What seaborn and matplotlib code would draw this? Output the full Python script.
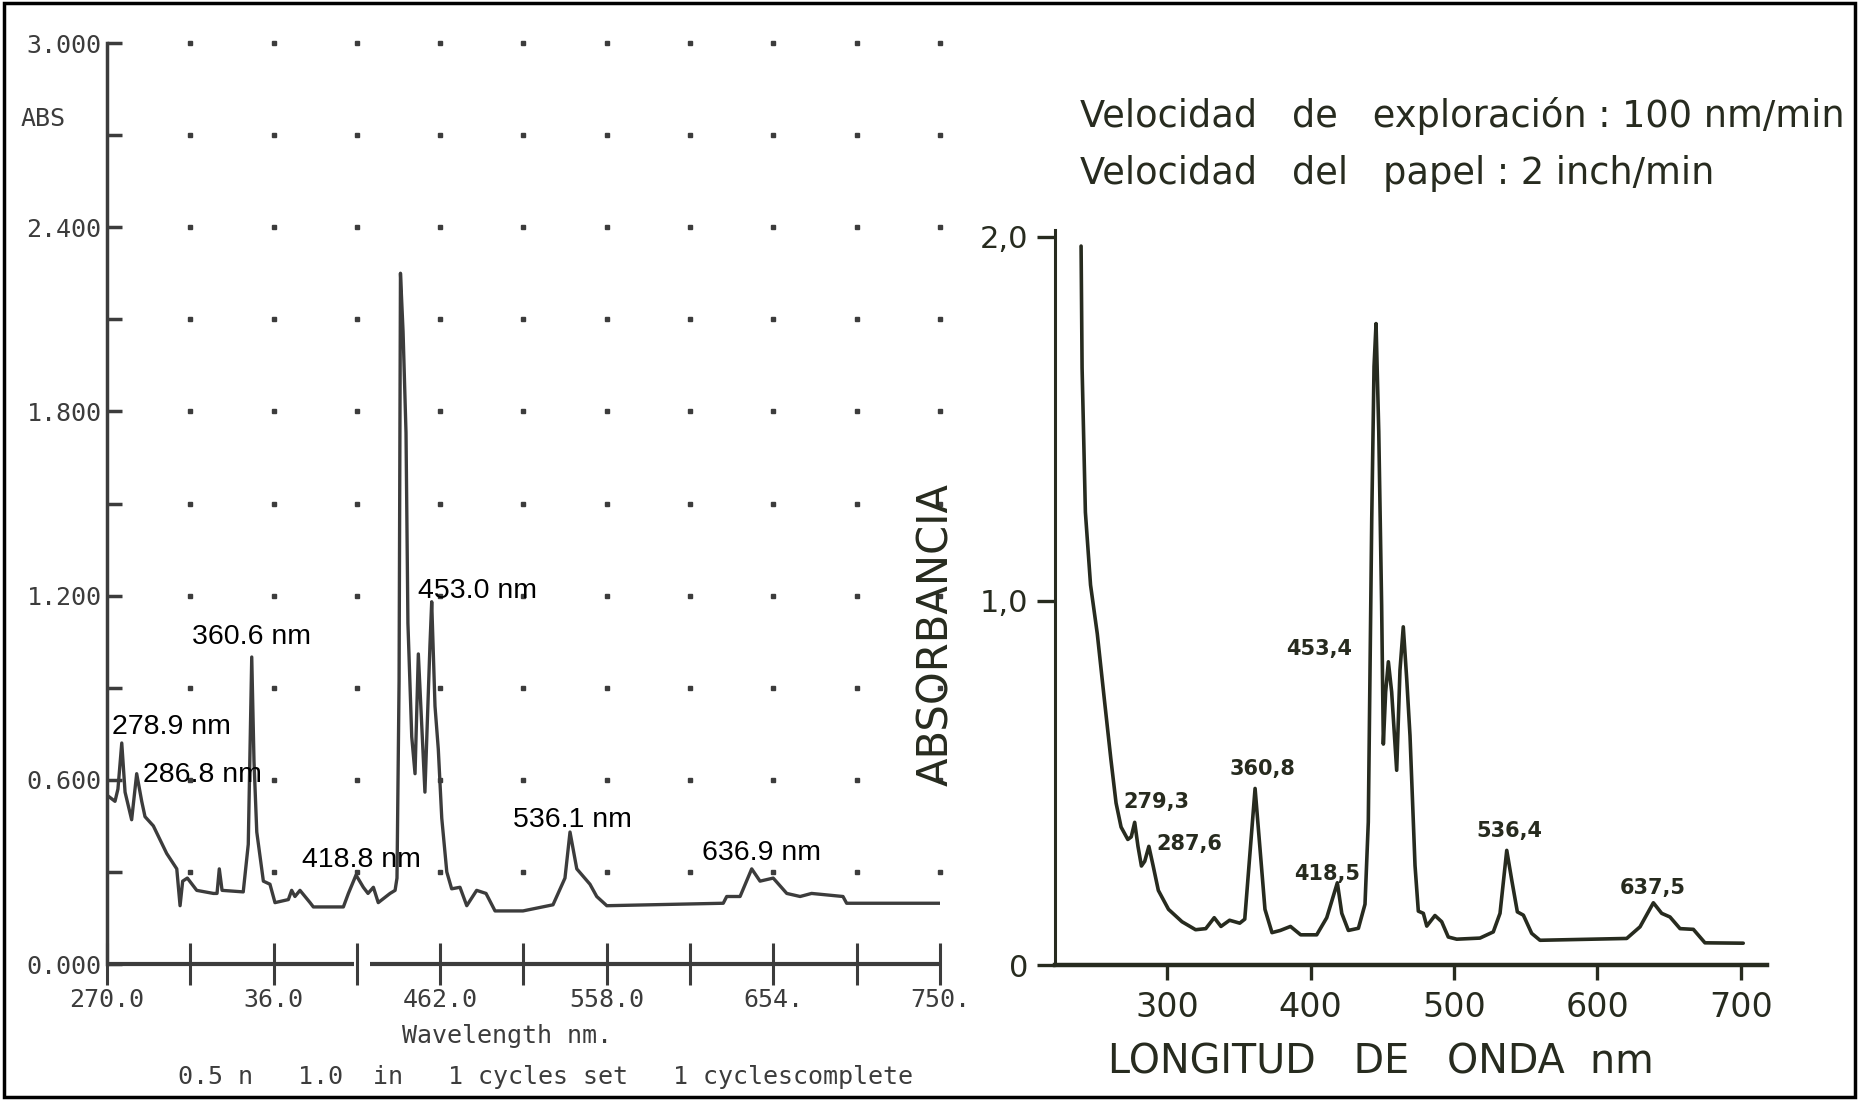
import numpy as np
import matplotlib
matplotlib.use("Agg")
import matplotlib.pyplot as plt
import seaborn as sns
from matplotlib.patches import Rectangle

# --- espectro izquierdo (registro digital, ABS) ---
onda_izq = [270.0, 274.6, 276.3, 278.5, 280.4, 284.2, 287.1, 290.0, 291.9, 296.7,
            304.4, 310.2, 312.1, 313.6, 316.3, 321.7, 331.3, 333.4, 334.7, 336.3,
            348.5, 351.4, 353.4, 354.7, 356.3, 360.1, 363.9, 366.8, 374.5, 376.4,
            378.3, 381.2, 387.0, 388.9, 406.2, 409.1, 413.5, 417.7, 420.4, 423.5,
            426.3, 433.1, 436.0, 437.1, 438.3, 439.1, 440.6, 442.3, 443.4, 445.6,
            447.5, 449.4, 451.3, 453.2, 456.1, 457.1, 459.0, 460.9, 462.9, 465.8,
            468.6, 473.4, 477.3, 483.0, 488.4, 493.6, 509.7, 527.0, 533.9, 536.8,
            540.7, 548.3, 552.2, 558.0, 625.1, 627.1, 634.8, 641.5, 646.3, 653.9,
            661.7, 669.4, 676.0, 694.1, 696.2, 750.0]
abs_izq = [0.55, 0.53, 0.57, 0.72, 0.56, 0.47, 0.62, 0.53, 0.48, 0.45,
           0.36, 0.31, 0.19, 0.27, 0.28, 0.24, 0.23, 0.23, 0.31, 0.24,
           0.235, 0.39, 1.00, 0.66, 0.43, 0.27, 0.26, 0.20, 0.21, 0.24,
           0.22, 0.24, 0.20, 0.186, 0.186, 0.23, 0.29, 0.25, 0.23, 0.25,
           0.20, 0.23, 0.24, 0.28, 0.92, 2.25, 2.06, 1.73, 1.11, 0.74,
           0.62, 1.01, 0.785, 0.56, 1.04, 1.18, 0.84, 0.70, 0.475, 0.30,
           0.245, 0.25, 0.19, 0.24, 0.23, 0.173, 0.173, 0.193, 0.28, 0.43,
           0.31, 0.26, 0.22, 0.19, 0.198, 0.22, 0.22, 0.31, 0.27, 0.28,
           0.23, 0.22, 0.23, 0.22, 0.198, 0.198]

picos_izq = ["278.9 nm", "286.8 nm", "360.6 nm", "418.8 nm", "453.0 nm", "536.1 nm", "636.9 nm"]
picos_izq_x = [272.7, 290.7, 319.0, 382.4, 449.2, 504.0, 612.9]
picos_izq_y = [0.772, 0.616, 1.065, 0.34, 1.215, 0.47, 0.362]

ticks_x_izq = [270, 318, 366, 414, 462, 510, 558, 606, 654, 702, 750]
etiquetas_x_izq = ["270.0", "", "36.0", "", "462.0", "", "558.0", "", "654.", "", "750."]
ticks_y_izq = [0.0, 0.3, 0.6, 0.9, 1.2, 1.5, 1.8, 2.1, 2.4, 2.7, 3.0]
etiquetas_y_izq = ["0.000", "", "0.600", "", "1.200", "", "1.800", "", "2.400", "", "3.000"]
corte_eje = [(270, 412.3), (421.5, 750)]

# --- espectro derecho (registro en papel, ABSORBANCIA) ---
onda_der = [239.8, 240.5, 242.8, 246.4, 251.1, 255.8, 260.6, 264.2, 267.7, 272.4,
            274.8, 277.2, 279.5, 281.9, 284.2, 287.1, 290.1, 293.7, 300.8, 310.2,
            319.7, 326.8, 332.7, 337.4, 343.4, 350.5, 354.0, 361.2, 368.1, 373.0,
            378.8, 385.9, 393.0, 404.2, 411.2, 418.6, 421.7, 426.3, 433.3, 437.9,
            440.2, 442.6, 444.2, 445.6, 447.5, 449.5, 450.7, 452.3, 454.2, 456.5,
            460.0, 462.3, 464.6, 467.0, 469.3, 472.8, 475.1, 478.6, 481.0, 486.7,
            491.4, 496.0, 501.9, 518.1, 527.4, 532.1, 536.8, 540.3, 544.2, 548.4,
            554.2, 560.0, 620.5, 629.8, 639.1, 644.9, 650.7, 657.7, 667.0, 675.1,
            701.8]
abs_der = [1.975, 1.64, 1.244, 1.044, 0.91, 0.738, 0.565, 0.445, 0.379, 0.345,
           0.352, 0.392, 0.326, 0.272, 0.285, 0.326, 0.272, 0.205, 0.153, 0.119,
           0.097, 0.10, 0.13, 0.106, 0.123, 0.115, 0.126, 0.485, 0.153, 0.089,
           0.095, 0.106, 0.083, 0.083, 0.13, 0.226, 0.142, 0.095, 0.101, 0.167,
           0.393, 1.226, 1.644, 1.762, 1.465, 0.989, 0.607, 0.75, 0.833, 0.75,
           0.535, 0.81, 0.929, 0.786, 0.63, 0.273, 0.148, 0.142, 0.107, 0.136,
           0.119, 0.077, 0.071, 0.074, 0.091, 0.142, 0.315, 0.233, 0.146, 0.137,
           0.087, 0.068, 0.073, 0.105, 0.171, 0.142, 0.132, 0.10, 0.098, 0.061,
           0.06]

picos_der = ["279,3", "287,6", "360,8", "418,5", "453,4", "536,4", "637,5"]
picos_der_x = [292.0, 315.0, 366.3, 411.8, 405.8, 538.4, 638.9]
picos_der_y = [0.449, 0.332, 0.538, 0.249, 0.868, 0.367, 0.212]

ticks_x_der = [300, 400, 500, 600, 700]
ticks_y_der = [0, 1, 2]
etiquetas_y_der = ["0", "1,0", "2,0"]

gris = "#3c3c3c"
oliva = "#272b1f"
mono = "DejaVu Sans Mono"

sns.set_theme(style="white")
plt.rcParams["font.family"] = ["DejaVu Sans"]
plt.rcParams["xtick.bottom"] = True
plt.rcParams["ytick.left"] = True

fig = plt.figure(figsize=(18.61, 11.0), dpi=100)
fig.patch.set_facecolor("white")

# ---------------- panel izquierdo ----------------
ax1 = fig.add_axes([0.0575, 0.1236, 0.4476, 0.8373])
sns.lineplot(x=onda_izq, y=abs_izq, ax=ax1, color=gris, linewidth=2.4, estimator=None)
ax1.set_xlim(270, 750)
ax1.set_ylim(0, 3.0)

# rejilla de puntos del registrador
gx, gy = np.meshgrid(ticks_x_izq[1:], ticks_y_izq[1:])
ax1.plot(gx.ravel(), gy.ravel(), linestyle="none", marker="s", markersize=2.3,
         color=gris, clip_on=False)

for a, b in corte_eje:
    ax1.hlines(0, a, b, color=gris, linewidth=3, clip_on=False)

for s in ["top", "right", "bottom"]:
    ax1.spines[s].set_visible(False)
ax1.spines["left"].set_color(gris)
ax1.spines["left"].set_linewidth(2.5)

ax1.set_xticks(ticks_x_izq)
ax1.set_xticklabels(etiquetas_x_izq, fontfamily=mono, fontsize=18, color=gris)
ax1.set_yticks(ticks_y_izq)
ax1.set_yticklabels(etiquetas_y_izq, fontfamily=mono, fontsize=18, color=gris)
ax1.tick_params(axis="x", bottom=True, direction="inout", length=30, width=2.2,
                color=gris, pad=2)
ax1.tick_params(axis="y", left=True, direction="in", length=11, width=2.5,
                color=gris, pad=4)
ax1.set_xlabel("")
ax1.set_ylabel("")

for txt, x, y in zip(picos_izq, picos_izq_x, picos_izq_y):
    ax1.text(x, y, txt, fontsize=20.5, family="Liberation Sans", color="black",
             ha="left", va="center")

fig.text(21 / 1861, 1 - 119 / 1100, "ABS", fontfamily=mono, fontsize=18,
         color=gris, ha="left", va="center")
fig.text(507 / 1861, 1 - 1036 / 1100, "Wavelength nm.", fontfamily=mono,
         fontsize=18, color=gris, ha="center", va="center")
fig.text(546 / 1861, 1 - 1077 / 1100,
         "0.5 n   1.0  in   1 cycles set   1 cyclescomplete",
         fontfamily=mono, fontsize=18, color=gris, ha="center", va="center")

# ---------------- panel derecho ----------------
ax2 = fig.add_axes([0.5669, 0.1227, 0.3826, 0.6685])
sns.lineplot(x=onda_der, y=abs_der, ax=ax2, color=oliva, linewidth=2.6, estimator=None)
ax2.set_xlim(221.6, 718.4)
ax2.set_ylim(0, 2.02)

for s in ["top", "right"]:
    ax2.spines[s].set_visible(False)
for s in ["left", "bottom"]:
    ax2.spines[s].set_color(oliva)
ax2.spines["left"].set_linewidth(2.2)
ax2.spines["bottom"].set_linewidth(3.2)

ax2.set_xticks(ticks_x_der)
ax2.set_xticklabels([str(t) for t in ticks_x_der], fontsize=24, color=oliva)
ax2.set_yticks(ticks_y_der)
ax2.set_yticklabels(etiquetas_y_der, fontsize=22, color=oliva)
ax2.tick_params(axis="x", bottom=True, direction="out", length=11, width=2.4,
                color=oliva, pad=8)
ax2.tick_params(axis="y", left=True, direction="out", length=13, width=2.4,
                color=oliva, pad=6)

ax2.set_ylabel("ABSORBANCIA", fontsize=30, color=oliva)
ax2.yaxis.set_label_coords(-0.167, 0.449)
ax2.yaxis.label.set_va("center")
ax2.set_xlabel("LONGITUD   DE   ONDA  nm", fontsize=28.5, color=oliva)
ax2.xaxis.set_label_coords(0.458, -0.132)
ax2.xaxis.label.set_va("center")

for txt, x, y in zip(picos_der, picos_der_x, picos_der_y):
    ax2.text(x, y, txt, fontsize=15, fontweight="bold", color=oliva,
             ha="center", va="center")

fig.text(1080 / 1861, 1 - 116 / 1100, "Velocidad   de   exploración : 100 nm/min",
         fontsize=26.5, color=oliva, ha="left", va="center")
fig.text(1080 / 1861, 1 - 174 / 1100, "Velocidad   del   papel : 2 inch/min",
         fontsize=26.5, color=oliva, ha="left", va="center")

# marco del escaneo
fig.patches.append(Rectangle((0.002, 0.003), 0.995, 0.994, transform=fig.transFigure,
                             fill=False, edgecolor="black", linewidth=2.5))

fig.savefig("out.png", dpi=100, facecolor="white")
